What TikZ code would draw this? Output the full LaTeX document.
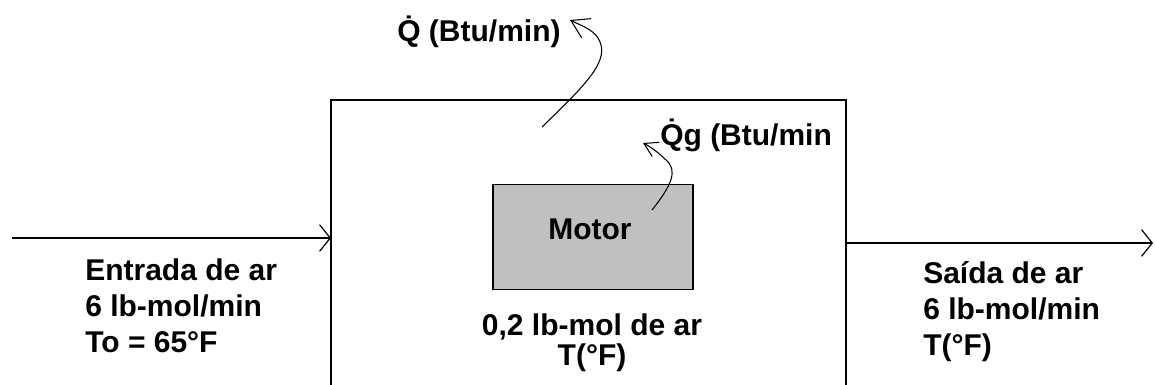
\documentclass[tikz,border=0pt]{standalone}
\usepackage{fontspec}
\setmainfont{Liberation Sans}
\usetikzlibrary{arrows.meta}
\begin{document}
\begin{tikzpicture}[x=0.75pt,y=-0.75pt,
  lbl/.style={inner sep=0pt,font=\bfseries\fontsize{22.5}{27}\selectfont},
  wall/.style={line width=1.1pt},
  flow/.style={line width=0.9pt,-{Straight Barb[length=8pt,width=20pt,line width=0.9pt]}},
  heat/.style={line width=0.8pt,-{Straight Barb[length=13pt,width=16pt,line width=0.8pt]}},
  heatg/.style={line width=0.8pt,-{Straight Barb[length=10pt,width=12pt,line width=0.8pt]}},
  motorbox/.style={draw,line width=1.1pt,fill=motorgray,minimum width=150pt,minimum height=79pt,inner sep=0pt}]
\definecolor{motorgray}{HTML}{C0C0C0}
\useasboundingbox (0,0) rectangle (1155,385);
% control volume (open at bottom)
\coordinate (bl) at (331,386);
\coordinate (tl) at (331,100);
\coordinate (tr) at (846,100);
\coordinate (br) at (846,386);
\draw[wall] (bl) -- (tl) -- (tr) -- (br);
% motor
\node[motorbox] (motor) at (593,237) {};
\node[lbl] (motortxt) at (590,229) {Motor};
% inlet / outlet streams
\coordinate (inA) at (12,238);
\coordinate (inB) at (331,238);
\coordinate (outA) at (846,243);
\coordinate (outB) at (1153,243);
\draw[flow] (inA) -- (inB);
\draw[flow] (outA) -- (outB);
% heat arrows
\coordinate (qS) at (542,127);
\coordinate (qE) at (570,20);
\draw[heat] (qS) .. controls (585,85) and (612,60) .. (598,38) .. controls (592,29) and (582,26) .. (qE);
\coordinate (gS) at (652,210);
\coordinate (gE) at (643,143);
\draw[heatg] (gS) .. controls (672,185) and (678,170) .. (666,160) .. controls (659,153) and (651,147) .. (gE);
% labels
\node[lbl,anchor=base west] (qlbl) at (397,42) {\.Q (Btu/min)};
\node[lbl,anchor=base west] (qglbl) at (660,145) {\.Qg (Btu/min};
\node[lbl,anchor=base west] (in1) at (85,280) {Entrada de ar};
\node[lbl,anchor=base west] (in2) at (85,316) {6 lb-mol/min};
\node[lbl,anchor=base west] (in3) at (85,352) {To = 65°F};
\node[lbl,anchor=base west] (out1) at (923,283) {Saída de ar};
\node[lbl,anchor=base west] (out2) at (923,319) {6 lb-mol/min};
\node[lbl,anchor=base west] (out3) at (923,355) {T(°F)};
\node[lbl,anchor=base] (c1) at (592,335) {0,2 lb-mol de ar};
\node[lbl,anchor=base] (c2) at (592,365) {T(°F)};
\end{tikzpicture}
\end{document}
